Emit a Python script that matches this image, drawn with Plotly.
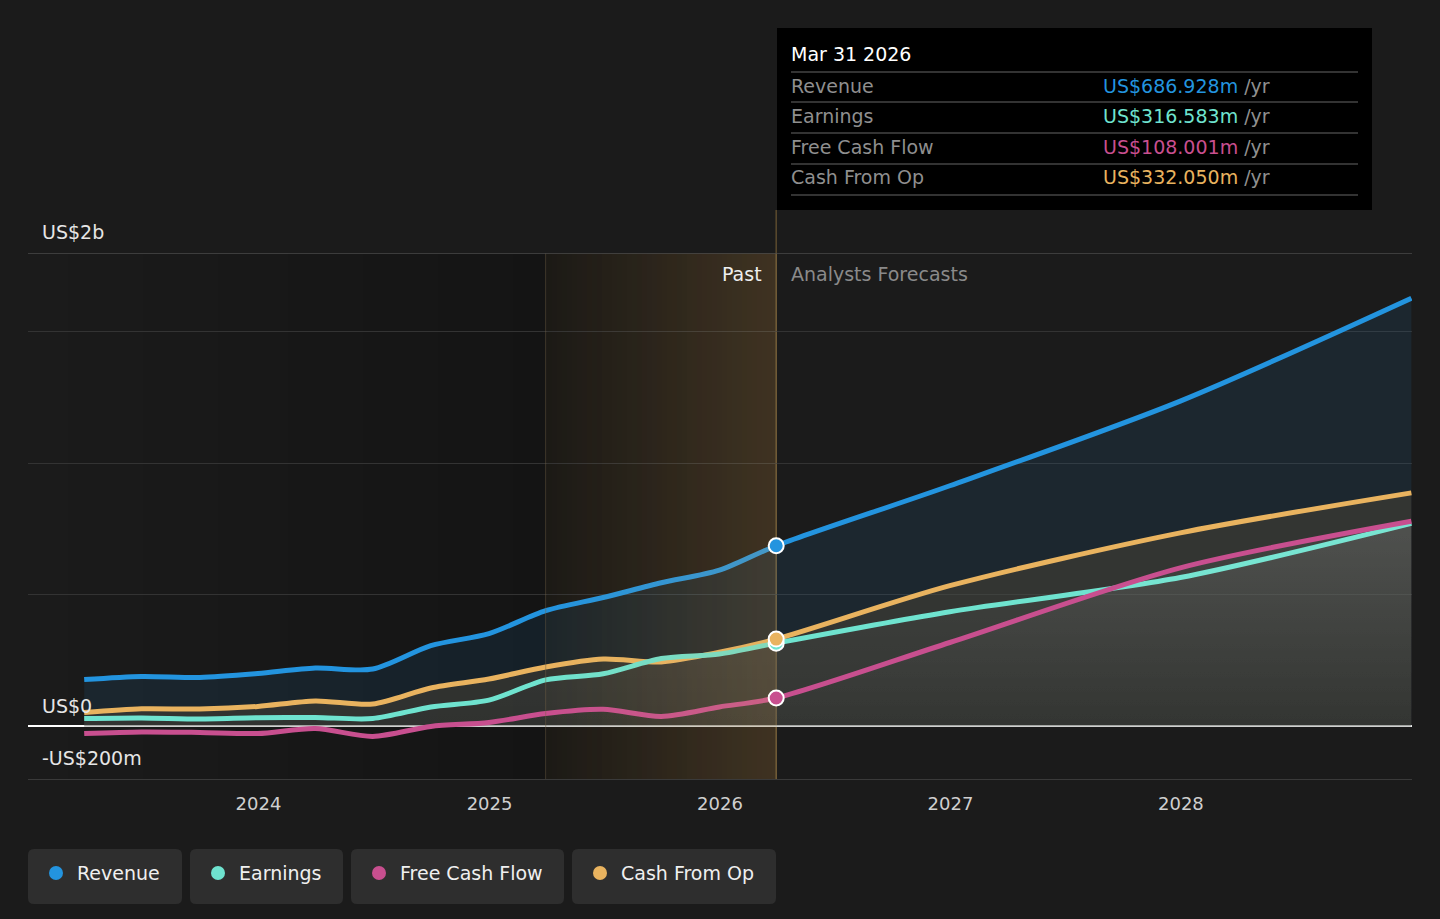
import plotly.graph_objects as go

# quarterly history then annual analyst forecasts (US$ m)
dates = ["2023-03-31", "2023-06-30", "2023-09-30", "2023-12-31",
         "2024-03-31", "2024-06-30", "2024-09-30", "2024-12-31",
         "2025-03-31", "2025-06-30", "2025-09-30", "2025-12-31",
         "2026-03-31",
         "2026-12-31", "2027-12-31", "2028-12-31"]
revenue = [178, 190, 186, 201, 222, 218, 307, 353, 440, 490, 546, 594, 686.928,
           915, 1237, 1628]
earnings = [30, 32, 28, 33, 34, 30, 74, 100, 177, 200, 258, 275, 316.583,
            436, 566, 772]
free_cash_flow = [-27, -21, -23, -27, -8, -38, 0, 15, 49, 65, 38, 74, 108.001,
                  319, 603, 780]
cash_from_op = [53, 67, 66, 76, 97, 85, 146, 180, 226, 256, 245, 282, 332.050,
                535, 736, 888]

names = ["Revenue", "Earnings", "Free Cash Flow", "Cash From Op"]
colors = ["#2394df", "#6fe3cf", "#c84f8f", "#e9b35f"]
now_idx = 12
now_label = "Mar 31 2026"
past_start = "2025-03-31"
x_range = ["2023-01-01", "2029-01-01"]
y_range = [-200, 1800]
year_ticks = ["2024-01-01", "2025-01-01", "2026-01-01", "2027-01-01", "2028-01-01"]
year_labels = ["2024", "2025", "2026", "2027", "2028"]

W, H = 1440, 919
L, R, T, B = 28, 1412, 253, 779
FONT = "DejaVu Sans"


def px(x):
    return (x - L) / (R - L)


def py(y):
    return (B - y) / (B - T)


def lerp_rgb(c0, c1, t):
    return "rgb(%d,%d,%d)" % tuple(round(a + (b - a) * t) for a, b in zip(c0, c1))


def rounded_rect(x0, y0, x1, y1, r):
    rx, ry = r / (R - L), r / (B - T)
    a0, a1, b0, b1 = px(x0), px(x1), py(y1), py(y0)
    return (f"M{a0+rx},{b0} L{a1-rx},{b0} Q{a1},{b0} {a1},{b0+ry} "
            f"L{a1},{b1-ry} Q{a1},{b1} {a1-rx},{b1} L{a0+rx},{b1} "
            f"Q{a0},{b1} {a0},{b1-ry} L{a0},{b0+ry} Q{a0},{b0} {a0+rx},{b0} Z")


fig = go.Figure()

series = [revenue, cash_from_op, earnings, free_cash_flow]
order = [0, 3, 1, 2]
fills = ["rgba(35,148,223,0.10)", "rgba(80,72,56,0.45)", None, None]
for k, (s, ci) in enumerate(zip(series, order)):
    tr = dict(x=dates, y=s, mode="lines", name=names[ci],
              line=dict(color=colors[ci], width=5, shape="spline", smoothing=0.8),
              fill="tozeroy", hoverinfo="skip", showlegend=False)
    if fills[k]:
        tr["fillcolor"] = fills[k]
    else:
        tr["fillgradient"] = dict(type="vertical", start=0, stop=800,
                                  colorscale=[[0, "rgba(255,255,255,0.0)"],
                                              [1, "rgba(255,255,255,0.075)"]])
    fig.add_trace(go.Scatter(**tr))

shapes = []
# past region: opaque 1px-aligned slices making a horizontal ramp
step = 5
for x0 in range(L, 547, step):
    x1 = min(x0 + step, 547)
    t = (x0 - L) / (547 - L)
    shapes.append(dict(type="rect", xref="paper", yref="paper", x0=px(x0), x1=px(x1),
                       y0=0, y1=1, fillcolor=lerp_rgb((27, 27, 27), (20, 20, 20), t),
                       line_width=0, layer="below"))
for x0 in range(547, 777, step):
    x1 = min(x0 + step, 777)
    t = (x0 - 547) / (777 - 547)
    shapes.append(dict(type="rect", xref="paper", yref="paper", x0=px(x0), x1=px(x1),
                       y0=0, y1=1, fillcolor=lerp_rgb((28, 26, 22), (26, 22, 19), t),
                       line_width=0, layer="below"))
    # warm glow over the last reported year, on top of the series
    shapes.append(dict(type="rect", xref="paper", yref="paper", x0=px(x0), x1=px(x1),
                       y0=0, y1=1, fillcolor="rgb(215,168,95)", opacity=round(0.2 * (t + 0.01), 3),
                       line_width=0, layer="above"))
shapes.append(dict(type="line", xref="x", yref="paper", x0=past_start, x1=past_start, y0=0, y1=1,
                   line=dict(color="rgba(120,100,70,0.5)", width=1)))
shapes.append(dict(type="line", xref="x", yref="paper", x0=dates[now_idx], x1=dates[now_idx],
                   y0=0, y1=py(210), line=dict(color="#5c4b2e", width=1.5), layer="below"))
# top border line
shapes.append(dict(type="line", xref="paper", yref="y", x0=0, x1=1, y0=y_range[1], y1=y_range[1],
                   line=dict(color="#4a4a4a", width=1.5)))

# markers at the latest reported point (pixel-sized, anchored on the data values)
now_vals = [revenue[now_idx], earnings[now_idx], free_cash_flow[now_idx], cash_from_op[now_idx]]
for v, c in zip(now_vals, colors):
    shapes.append(dict(type="circle", xref="x", yref="y", xsizemode="pixel", ysizemode="pixel",
                       xanchor=dates[now_idx], yanchor=v, x0=-7.5, x1=7.5, y0=-7.5, y1=7.5,
                       fillcolor=c, line=dict(color="white", width=2), layer="above"))

# tooltip box
shapes.append(dict(type="rect", xref="paper", yref="paper", x0=px(777), x1=px(1372),
                   y0=py(210), y1=py(28), fillcolor="#000000", line_width=0, layer="above"))
for yy in [72, 102, 133, 164, 195]:
    shapes.append(dict(type="line", xref="paper", yref="paper", x0=px(791), x1=px(1358),
                       y0=py(yy), y1=py(yy), line=dict(color="#444444", width=1.5), layer="above"))

annotations = []


def text(x, y, s, color, size=19, anchor="left"):
    shift = -2 if anchor == "left" else 2
    annotations.append(dict(x=px(x + shift), y=py(y), xref="paper", yref="paper", text=s,
                            showarrow=False, xanchor=anchor, yanchor="middle",
                            font=dict(family=FONT, size=size, color=color)))


text(791, 54, now_label, "#ffffff")
for i, yy in enumerate([86, 116, 147, 177]):
    text(791, yy, names[i], "#8f8f8f")
    text(1103, yy, f"<span style='color:{colors[i]}'>US${now_vals[i]:.3f}m</span> /yr", "#8f8f8f")

text(42, 232, "US$2b", "#e6e6e6")
text(42, 706, "US$0", "#e6e6e6")
text(42, 758, "-US$200m", "#e6e6e6")
text(762, 274, "Past", "#eeeeee", anchor="right")
text(791, 274, "Analysts Forecasts", "#8a8a8a")

# legend chips
chips = [(28, 182), (190, 343), (351, 564), (572, 776)]
for i, (a, b) in enumerate(chips):
    shapes.append(dict(type="path", xref="paper", yref="paper", path=rounded_rect(a, 849, b, 904, 6),
                       fillcolor="#2e2e2e", line_width=0))
    cx = a + 28
    shapes.append(dict(type="circle", xref="paper", yref="paper", x0=px(cx - 7), x1=px(cx + 7),
                       y0=py(880), y1=py(866), fillcolor=colors[i], line_width=0))
    text(a + 49, 873, names[i], "#f0f0f0")

fig.update_layout(
    width=W, height=H,
    margin=dict(l=L, r=W - R, t=T, b=H - B),
    paper_bgcolor="#1b1b1b", plot_bgcolor="#1b1b1b",
    font=dict(family=FONT, color="#cfcfcf"),
    shapes=shapes, annotations=annotations,
    xaxis=dict(type="date", range=x_range, tickvals=year_ticks, ticktext=year_labels,
               showgrid=False, showline=True, linecolor="#3a3a3a", ticks="",
               tickfont=dict(size=18, color="#cfcfcf"), ticklabelstandoff=8, fixedrange=True),
    yaxis=dict(range=y_range, tickvals=[0, 500, 1000, 1500], showticklabels=False,
               gridcolor="#333333", gridwidth=1, zeroline=True, zerolinecolor="#ffffff",
               zerolinewidth=1.5, fixedrange=True),
    hovermode=False,
)

# drop the default page margin so the figure sits at 0,0
fig.write_html("out.html", config={"displayModeBar": False},
               post_script="document.body.style.margin='0';")
